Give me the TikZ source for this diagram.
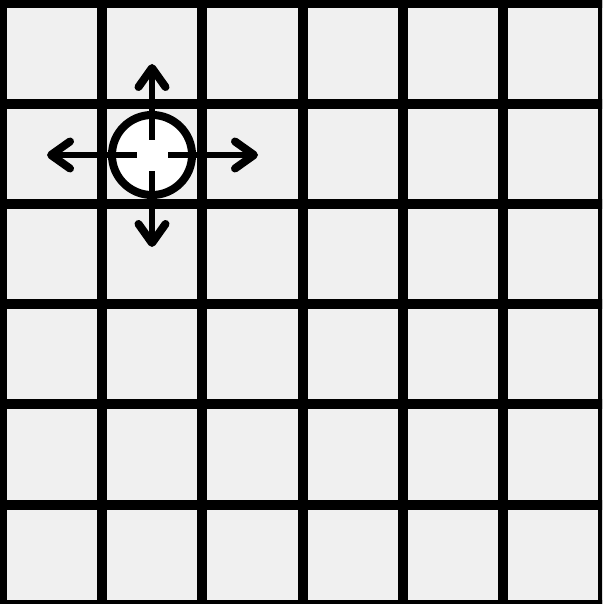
\documentclass[tikz,border=0pt]{standalone}
\usetikzlibrary{arrows.meta}
\definecolor{cellgrey}{HTML}{F0F0F0}

\begin{document}
\begin{tikzpicture}[x=0.01cm, y=-0.01cm, >={Straight Barb[round, length=0.19cm, width=0.27cm, line width=0.08cm]}]
        \useasboundingbox (0,0) rectangle (602,604);
        \clip (0,0) rectangle (602,604);
        \fill[cellgrey] (0,0) rectangle (602,604);

        % grid lines
        \foreach \i in {0,...,6} {
            \draw[line width=0.1cm] ({2+100.2*\i},-10) -- ({2+100.2*\i},620);
            \draw[line width=0.1cm] (-10,{3.5+100.2*\i}) -- (620,{3.5+100.2*\i});
        }

        \node[draw, circle, fill=white, line width=0.08cm, minimum size=0.8cm, inner sep=0pt] (agent) at (152,155) {};
        \coordinate (up) at (152,64);
        \coordinate (down) at (152,247);
        \coordinate (left) at (47,155);
        \coordinate (right) at (258,155);

        \draw[->, line width=0.06cm, shorten <=0.15cm] (agent.center) -- (up);
        \draw[->, line width=0.06cm, shorten <=0.16cm] (agent.center) -- (down);
        \draw[->, line width=0.06cm, shorten <=0.15cm] (agent.center) -- (left);
        \draw[->, line width=0.06cm, shorten <=0.16cm] (agent.center) -- (right);
    \end{tikzpicture}
\end{document}
